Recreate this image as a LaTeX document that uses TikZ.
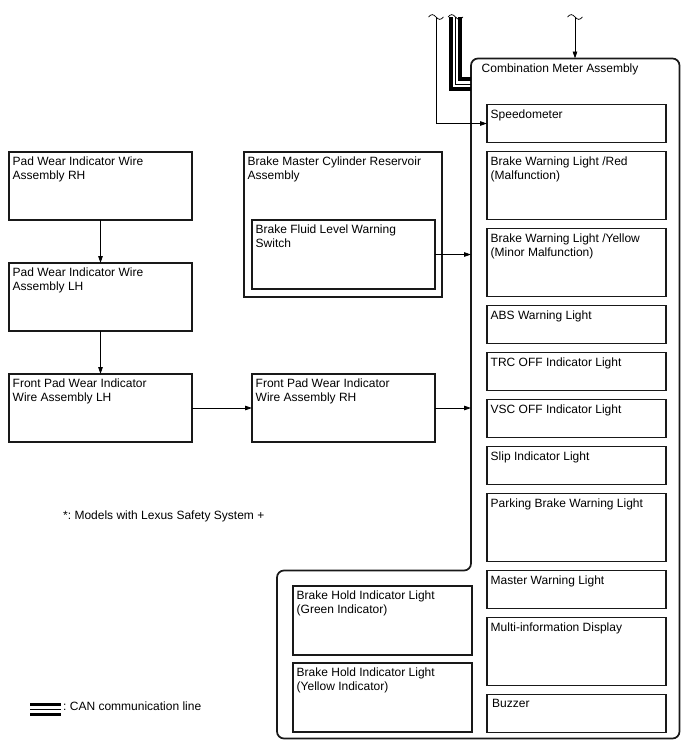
\documentclass[tikz,border=0pt]{standalone}
\usepackage{fontspec}
\setmainfont{Liberation Sans}
\usetikzlibrary{arrows.meta, positioning}
\frenchspacing

% small "~" break mark at the loose end of a line
\newcommand{\breakmark}[1]{\draw[line width=0.7pt] (#1) ++(-7.5,0) sin ++(3.75,-2.4) cos ++(3.75,2.4) sin ++(3.75,2.4) cos ++(3.75,-2.4);}

\begin{document}
\begin{tikzpicture}[
    x=1pt, y=-1pt,
    font=\fontsize{12}{14}\selectfont,
    blk/.style 2 args={draw=black!90, line width=1.3pt, inner sep=0pt, outer sep=0pt,
        minimum width=#1pt, minimum height=#2pt},
    mbox/.style={blk={179}{#1}},
    txt/.style={anchor=north west, align=left, inner xsep=3.5pt, inner ysep=5pt},
    arr/.style={-{Triangle[length=7pt, width=4.5pt]}, line width=0.8pt},
    meter/.style={draw=black!90, line width=1.7pt, rounded corners=7pt},
    node distance=8.5pt,
]
\useasboundingbox (0,0) rectangle (688,755);

%% ========== COMBINATION METER OUTLINE ==========
\draw[meter] (575,58.5) -- (679.5,58.5) -- (679.5,738.5) -- (277,738.5)
    -- (277,570.5) -- (471,570.5) -- (471,58.5) -- cycle;
\node[txt] (mtitle) at (478,58.5) {Combination Meter Assembly};
\coordinate (mleft) at (471,58.5);
\coordinate (mtop) at (575,58.5);

%% ========== METER ITEMS ==========
\node[mbox=38.5] (spd) at (576.5,123.5) {};
\node[mbox=68.5, below=of spd] (bwred) {};
\node[mbox=68.5, below=of bwred] (bwyel) {};
\node[mbox=38.5, below=of bwyel] (abs) {};
\node[mbox=38.5, below=of abs] (trc) {};
\node[mbox=38.5, below=of trc] (vsc) {};
\node[mbox=38.5, below=of vsc] (slip) {};
\node[mbox=68.5, below=of slip] (pkb) {};
\node[mbox=38.5, below=of pkb] (mwl) {};
\node[mbox=68.5, below=of mwl] (mid) {};
\node[mbox=38.5, below=of mid] (buz) {};

\node[txt] (spd-t) at (spd.north west) {Speedometer};
\node[txt] (bwred-t) at (bwred.north west) {Brake Warning Light /Red\\(Malfunction)};
\node[txt] (bwyel-t) at (bwyel.north west) {Brake Warning Light /Yellow\\(Minor Malfunction)};
\node[txt] (abs-t) at (abs.north west) {ABS Warning Light};
\node[txt] (trc-t) at (trc.north west) {TRC OFF Indicator Light};
\node[txt] (vsc-t) at (vsc.north west) {VSC OFF Indicator Light};
\node[txt] (slip-t) at (slip.north west) {Slip Indicator Light};
\node[txt] (pkb-t) at (pkb.north west) {Parking Brake Warning Light};
\node[txt] (mwl-t) at (mwl.north west) {Master Warning Light};
\node[txt] (mid-t) at (mid.north west) {Multi-information Display};
\node[txt, xshift=1.5pt] (buz-t) at (buz.north west) {Buzzer};

%% Brake hold lights
\node[blk={179}{69}] (bhgrn) at (382.5,620.5) {};
\node[blk={179}{69}, below=8pt of bhgrn] (bhyel) {};
\node[txt] (bhgrn-t) at (bhgrn.north west) {Brake Hold Indicator Light\\(Green Indicator)};
\node[txt] (bhyel-t) at (bhyel.north west) {Brake Hold Indicator Light\\(Yellow Indicator)};

%% ========== BRAKE SENSORS ==========
\node[blk={183}{68}] (padrh) at (100.5,186) {};
\node[blk={183}{68}] (padlh) at (100.5,297) {};
\node[blk={183}{68}] (fplh) at (100.5,408) {};
\node[blk={183}{68}] (fprh) at (343.5,408) {};
\node[blk={198}{145}] (bmc) at (343,224.5) {};
\node[blk={183}{69}] (sw) at (343.5,254.5) {};

\node[txt] (padrh-t) at (padrh.north west) {Pad Wear Indicator Wire\\Assembly RH};
\node[txt] (padlh-t) at (padlh.north west) {Pad Wear Indicator Wire\\Assembly LH};
\node[txt] (fplh-t) at (fplh.north west) {Front Pad Wear Indicator\\Wire Assembly LH};
\node[txt] (fprh-t) at (fprh.north west) {Front Pad Wear Indicator\\Wire Assembly RH};
\node[txt] (bmc-t) at (bmc.north west) {Brake Master Cylinder Reservoir\\Assembly};
\node[txt] (sw-t) at (sw.north west) {Brake Fluid Level Warning\\Switch};

%% ========== CONNECTIONS ==========
\draw[arr] (padrh.south) -- (padlh.north);
\draw[arr] (padlh.south) -- (fplh.north);
\draw[arr] (fplh.east) -- (fprh.west);
\draw[arr] (fprh.east) -- (fprh.east -| mleft);
\draw[arr] (sw.east) -- (sw.east -| mleft);

%% incoming lines from above
\coordinate (wl) at (436,17);
\coordinate (wr) at (575,17);
\draw[arr] (wl) |- (spd.west);
\draw[arr] (wr) -- (mtop);
\breakmark{wl}
\breakmark{wr}

%% CAN bus
\foreach \cx/\cy/\lw in {451/89/3.2, 455.5/84/1, 460/79/3.2}
    \draw[line width=\lw pt] (\cx,17) |- (471,\cy);
\breakmark{455.5,17}

%% ========== NOTES ==========
\node[anchor=base west, inner sep=0pt] (note) at (63,519.5) {*: Models with Lexus Safety System +};
\foreach \ly/\lw in {704.5/3.2, 709.5/1, 714.5/3.2}
    \draw[line width=\lw pt] (30,\ly) -- (61,\ly);
\node[anchor=base west, inner sep=0pt] (canlbl) at (63,710.5) {: CAN communication line};
\end{tikzpicture}
\end{document}
